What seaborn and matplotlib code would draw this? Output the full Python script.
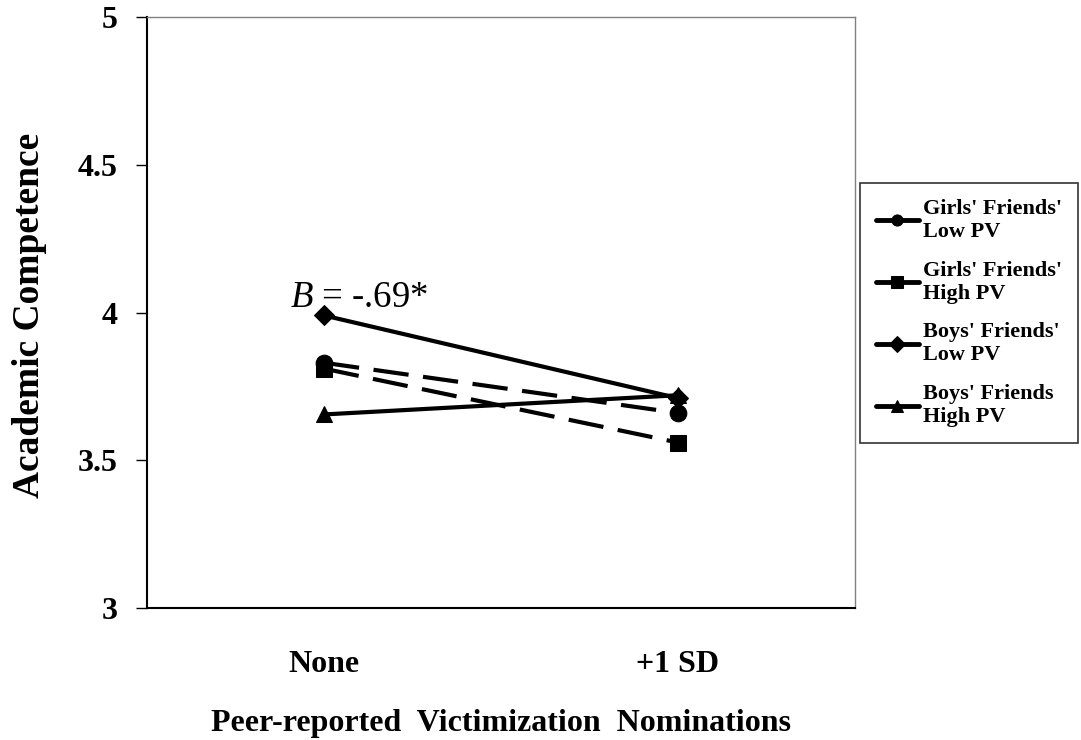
import pandas as pd
import matplotlib
matplotlib.use('Agg')
import matplotlib.pyplot as plt
import seaborn as sns

# Data
levels = ['None', '+1 SD']
series = ["Girls' Friends'\nLow PV", "Girls' Friends'\nHigh PV",
          "Boys' Friends'\nLow PV", "Boys' Friends\nHigh PV"]
girls_low = [3.83, 3.66]
girls_high = [3.81, 3.56]
boys_low = [3.99, 3.71]
boys_high = [3.655, 3.72]

rows = []
for name, vals in zip(series, [girls_low, girls_high, boys_low, boys_high]):
    for i, v in enumerate(vals):
        rows.append({'pos': i, 'level': levels[i], 'group': name, 'score': v})
df = pd.DataFrame(rows)

sns.set_theme(style='white')
plt.rcParams['font.family'] = ['Liberation Serif', 'DejaVu Serif']
plt.rcParams['font.weight'] = 'bold'
plt.rcParams['text.color'] = 'black'
plt.rcParams['axes.labelcolor'] = 'black'
plt.rcParams['xtick.color'] = 'black'
plt.rcParams['ytick.color'] = 'black'
plt.rcParams['mathtext.fontset'] = 'custom'
plt.rcParams['mathtext.it'] = 'Liberation Serif:italic:normal'
plt.rcParams['mathtext.rm'] = 'Liberation Serif:normal'

fig = plt.figure(figsize=(10.81, 7.40), dpi=100)
ax = fig.add_axes([147 / 1081, 1 - 608 / 740, 708 / 1081, 591 / 740])

markers = dict(zip(series, ['o', 's', 'D', '^']))
dashes = dict(zip(series, [(8.5, 3.5), (8.5, 3.5), '', '']))
sns.lineplot(data=df, x='pos', y='score', hue='group', style='group',
             palette=['black'] * 4, markers=markers, dashes=dashes,
             linewidth=3, markersize=12, markeredgecolor='black',
             ax=ax, legend=True)
for line in ax.lines:
    if line.get_marker() == 'D':
        line.set_markersize(10)

ax.set_xlim(-0.5, 1.5)
ax.set_ylim(3, 5)
ax.set_yticks([3, 3.5, 4, 4.5, 5])
ax.set_yticklabels(['3', '3.5', '4', '4.5', '5'], fontsize=23, fontweight='bold')
ax.set_xticks([0, 1])
ax.set_xticklabels(levels, fontsize=23, fontweight='bold')
ax.set_xticks([-0.5, 0.5, 1.5], minor=True)
ax.tick_params(axis='x', which='major', length=0, pad=30)
ax.tick_params(axis='x', which='minor', length=8, width=1, color='black', direction='out')
ax.tick_params(axis='y', length=8, width=1, color='black', direction='out', left=True, pad=13)

for s in ['top', 'right']:
    ax.spines[s].set_color('#808080')
    ax.spines[s].set_linewidth(1)
for s in ['left', 'bottom']:
    ax.spines[s].set_color('black')
    ax.spines[s].set_linewidth(1.5)

ax.set_xlabel('Peer-reported  Victimization  Nominations', fontsize=23,
              fontweight='bold', labelpad=22)
ax.set_ylabel('')
fig.text(30 / 1081, 1 - 315 / 740, 'Academic Competence', rotation=90,
         ha='center', va='center', fontsize=27, fontweight='bold')

ax.text(-0.095, 4.017, r'$B$ = -.69*', fontsize=26.5, fontweight='normal',
        ha='left', va='baseline', family='Liberation Serif')

leg = ax.legend(loc='center left', bbox_to_anchor=(860 / 1081, 1 - 313 / 740),
                bbox_transform=fig.transFigure, frameon=True, fancybox=False,
                edgecolor='black', fontsize=16, handlelength=1.95,
                labelspacing=0.85, borderpad=0.7, handletextpad=0.2,
                borderaxespad=0)
leg.get_frame().set_linewidth(1.2)
for t in leg.get_texts():
    t.set_fontweight('bold')
    t.set_linespacing(1.2)
for h in leg.get_lines():
    h.set_linestyle('-')
    h.set_linewidth(3.5)
    h.set_markersize(8)

fig.savefig('out.png', dpi=100)
